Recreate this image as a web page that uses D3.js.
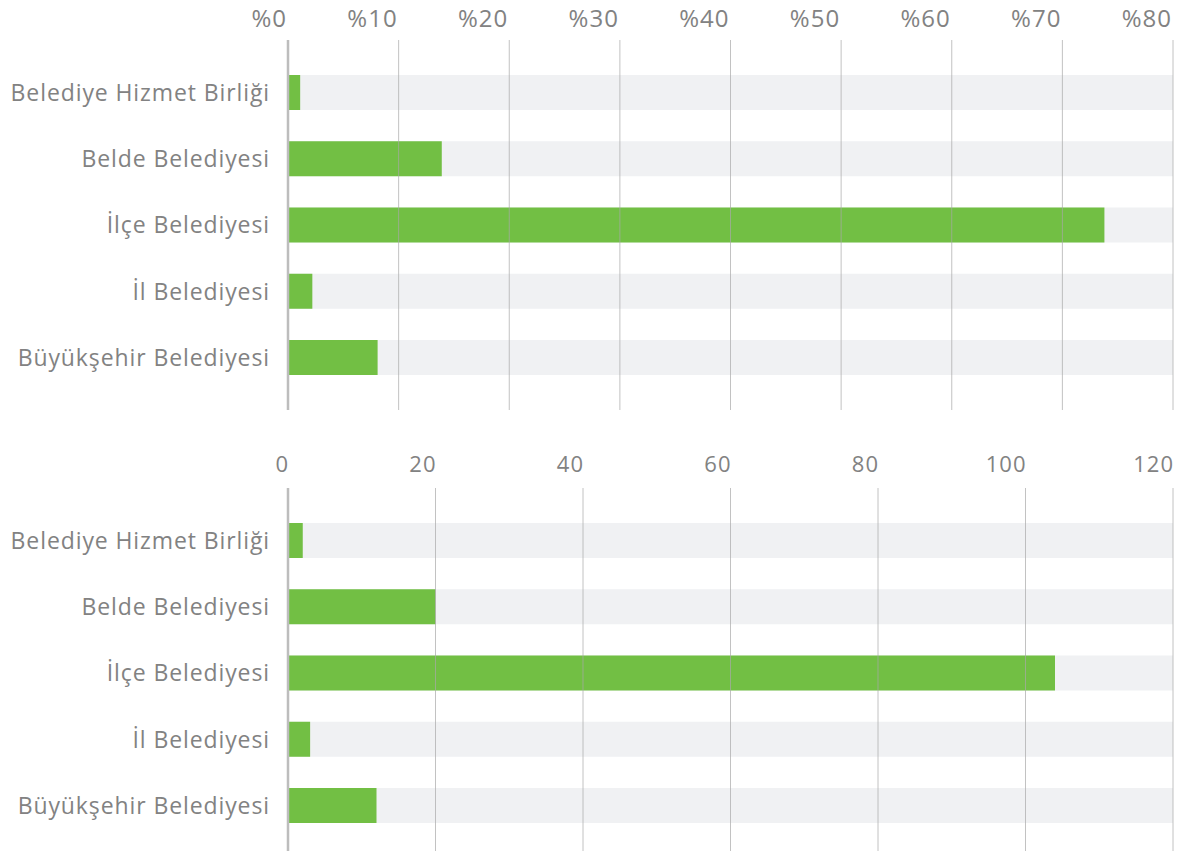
<!DOCTYPE html>
<html>
<head>
<meta charset="utf-8">
<script src="https://cdn.jsdelivr.net/npm/d3@7"></script>
<style>
  body { margin: 0; background: #fff; }
  svg text { font-family: "Open Sans", sans-serif; fill: #828282; }
</style>
</head>
<body>
<svg id="chart" width="1177" height="851"></svg>
<script>
// categories, same for both panels (top to bottom)
var categories = ["Belediye Hizmet Birliği", "Belde Belediyesi", "İlçe Belediyesi", "İl Belediyesi", "Büyükşehir Belediyesi"];

// top panel: share in percent
var percentValues = [1.1, 13.9, 73.8, 2.2, 8.1];
var percentTicks = [0, 10, 20, 30, 40, 50, 60, 70, 80];

// bottom panel: counts
var countValues = [2, 20, 104, 3, 12];
var countTicks = [0, 20, 40, 60, 80, 100, 120];

var svg = d3.select("#chart");
var left = 288, right = 1173;

function drawPanel(values, ticks, maxVal, fmt, opts) {
    var g = svg.append("g");

    var x = d3.scaleLinear().domain([0, maxVal]).range([left, right]);
    var y = d3.scaleBand()
        .domain(categories)
        .range([opts.bandTop, opts.bandTop + 362.5])
        .padding(0.4717);

    // gray background bands
    g.selectAll("rect.bg")
        .data(categories)
        .enter()
        .append("rect")
        .attr("class", "bg")
        .attr("x", left)
        .attr("y", function(d) { return y(d); })
        .attr("width", right - left)
        .attr("height", y.bandwidth())
        .attr("fill", "#f0f1f3");

    // bars
    g.selectAll("rect.bar")
        .data(values)
        .enter()
        .append("rect")
        .attr("class", "bar")
        .attr("x", x(0))
        .attr("y", function(d, i) { return y(categories[i]); })
        .attr("width", function(d) { return x(d) - x(0); })
        .attr("height", y.bandwidth())
        .attr("fill", "#72bf44");

    // gridlines on top
    g.selectAll("line.grid")
        .data(ticks.slice(1))
        .enter()
        .append("line")
        .attr("class", "grid")
        .attr("x1", function(d) { return x(d); })
        .attr("x2", function(d) { return x(d); })
        .attr("y1", opts.gridTop)
        .attr("y2", opts.gridBottom)
        .attr("stroke", "#a8a8a8")
        .attr("stroke-opacity", 0.7)
        .attr("stroke-width", 1);

    // zero axis line
    g.append("line")
        .attr("x1", x(0)).attr("x2", x(0))
        .attr("y1", opts.gridTop).attr("y2", opts.gridBottom)
        .attr("stroke", "#bdbdbd")
        .attr("stroke-width", 2.5);

    // tick labels
    g.selectAll("text.tick")
        .data(ticks)
        .enter()
        .append("text")
        .attr("class", "tick")
        .attr("x", function(d) { return x(d) - opts.tickShift; })
        .attr("y", opts.tickY)
        .attr("text-anchor", "end")
        .style("font-size", opts.tickSize + "px")
        .style("letter-spacing", "1px")
        .text(fmt);

    // category labels
    g.selectAll("text.cat")
        .data(categories)
        .enter()
        .append("text")
        .attr("class", "cat")
        .attr("x", 270)
        .attr("y", function(d) { return y(d) + y.bandwidth() / 2; })
        .attr("dy", "0.36em")
        .attr("text-anchor", "end")
        .style("font-size", "23px")
        .style("letter-spacing", "0.9px")
        .text(function(d) { return d; });
}

drawPanel(percentValues, percentTicks, 80, function(d) { return "%" + d; },
    { bandTop: 43.75, gridTop: 40, gridBottom: 410, tickY: 27, tickSize: 24, tickShift: 1 });

drawPanel(countValues, countTicks, 120, function(d) { return d; },
    { bandTop: 491.75, gridTop: 488, gridBottom: 851, tickY: 472, tickSize: 22, tickShift: -1 });
</script>
</body>
</html>
